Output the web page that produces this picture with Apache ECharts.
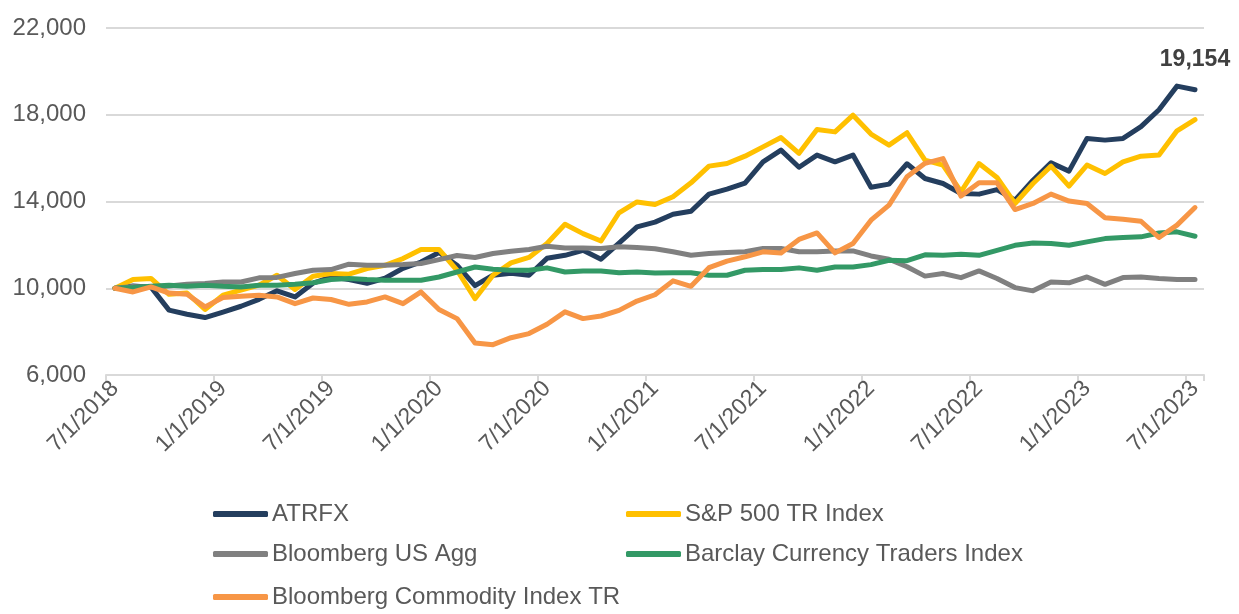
<!DOCTYPE html>
<html>
<head>
<meta charset="utf-8">
<script src="https://cdn.jsdelivr.net/npm/echarts@6/dist/echarts.min.js"></script>
<style>
html,body{margin:0;padding:0;background:#fff;}
#chart{width:1239px;height:614px;}
</style>
</head>
<body>
<div id="chart"></div>
<script>
const categories = [
"7/1/2018","8/1/2018","9/1/2018","10/1/2018","11/1/2018","12/1/2018",
"1/1/2019","2/1/2019","3/1/2019","4/1/2019","5/1/2019","6/1/2019",
"7/1/2019","8/1/2019","9/1/2019","10/1/2019","11/1/2019","12/1/2019",
"1/1/2020","2/1/2020","3/1/2020","4/1/2020","5/1/2020","6/1/2020",
"7/1/2020","8/1/2020","9/1/2020","10/1/2020","11/1/2020","12/1/2020",
"1/1/2021","2/1/2021","3/1/2021","4/1/2021","5/1/2021","6/1/2021",
"7/1/2021","8/1/2021","9/1/2021","10/1/2021","11/1/2021","12/1/2021",
"1/1/2022","2/1/2022","3/1/2022","4/1/2022","5/1/2022","6/1/2022",
"7/1/2022","8/1/2022","9/1/2022","10/1/2022","11/1/2022","12/1/2022",
"1/1/2023","2/1/2023","3/1/2023","4/1/2023","5/1/2023","6/1/2023",
"7/1/2023"
];

const atrfx = [
10000,10100,10050,8990,8800,8650,8900,9170,9490,9880,9600,10230,10520,10400,10230,
10460,10920,11210,11650,11060,10120,10600,10690,10600,11380,11520,11750,11340,12080,12830,
13050,13410,13550,14340,14570,14850,15830,16370,15580,16140,15830,16140,14660,14800,15740,
15060,14830,14370,14340,14550,14060,14980,15780,15400,16910,16830,16910,17450,18230,19320,
19154
];
const sp500 = [
10000,10400,10450,9720,9780,9020,9680,9910,10140,10600,9940,10550,10680,10650,10910,
11060,11370,11790,11790,10830,9520,10600,11170,11420,12060,12950,12520,12180,13480,13980,
13860,14220,14860,15630,15750,16090,16520,16950,16220,17320,17210,17980,17110,16600,17170,
15910,15680,14450,15750,15110,13910,14830,15630,14710,15680,15290,15830,16090,16140,17260,
17780
];
const usAgg = [
10000,10080,10050,10100,10180,10220,10290,10290,10480,10500,10680,10830,10860,11110,11060,
11060,11090,11140,11320,11510,11420,11600,11710,11790,11940,11860,11860,11830,11910,11880,
11820,11680,11520,11600,11650,11680,11830,11830,11680,11680,11720,11720,11490,11340,10990,
10560,10680,10490,10800,10450,10030,9880,10290,10250,10520,10180,10490,10520,10450,10400,
10400
];
const currency = [
10000,10030,10090,10140,10090,10140,10090,10060,10140,10140,10180,10250,10400,10450,10400,
10370,10370,10370,10520,10750,10980,10880,10830,10830,10940,10750,10800,10800,10710,10750,
10700,10710,10710,10600,10600,10830,10860,10860,10940,10830,10980,10980,11090,11290,11270,
11540,11520,11570,11520,11750,11980,12090,12060,11980,12140,12290,12340,12370,12550,12600,
12400
];
const commodity = [
10000,9830,10060,9780,9720,9140,9570,9630,9680,9600,9290,9550,9480,9260,9370,
9600,9290,9830,9020,8600,7480,7400,7720,7910,8340,8910,8600,8720,8980,9410,
9700,10340,10090,10950,11250,11450,11680,11630,12250,12550,11630,12060,13140,13830,15140,
15760,15980,14250,14860,14860,13630,13910,14340,14020,13910,13250,13180,13090,12340,12910,
13720
];
const yTicks = {min: 6000, max: 22000, interval: 4000};

const seriesDefs = [
  {name: "ATRFX", data: atrfx, color: "#243E5E"},
  {name: "S&P 500 TR Index", data: sp500, color: "#FFC000"},
  {name: "Bloomberg US Agg", data: usAgg, color: "#808080"},
  {name: "Barclay Currency Traders Index", data: currency, color: "#339966"},
  {name: "Bloomberg Commodity Index TR", data: commodity, color: "#F79646"}
];

const legendPos = [
  {left: 213, top: 502},
  {left: 626, top: 502},
  {left: 213, top: 542},
  {left: 626, top: 542},
  {left: 213, top: 585}
];

const fontFam = "'Liberation Sans', Arial, sans-serif";
const chart = echarts.init(document.getElementById('chart'), null, {renderer: 'canvas'});

const fmt = v => v.toLocaleString('en-US');
const every6 = (idx) => idx % 6 === 0;

const option = {
  animation: false,
  backgroundColor: '#ffffff',
  grid: {left: 106, right: 35, top: 28, bottom: 239, containLabel: false},
  xAxis: {
    type: 'category',
    data: categories,
    boundaryGap: true,
    axisLine: {show: true, lineStyle: {color: '#d9d9d9', width: 2}},
    axisTick: {show: true, interval: every6, length: 6, lineStyle: {color: '#d9d9d9', width: 2}},
    axisLabel: {
      interval: every6, rotate: 45, margin: 10,
      color: '#595959', fontSize: 23, fontFamily: fontFam
    },
    splitLine: {show: false}
  },
  yAxis: {
    type: 'value',
    min: yTicks.min, max: yTicks.max, interval: yTicks.interval,
    axisLine: {show: false},
    axisTick: {show: false},
    axisLabel: {
      color: '#595959', fontSize: 24, fontFamily: fontFam, margin: 20,
      formatter: v => fmt(v)
    },
    splitLine: {show: true, lineStyle: {color: '#d9d9d9', width: 2}}
  },
  legend: seriesDefs.map((s, i) => ({
    data: [s.name],
    left: legendPos[i].left,
    top: legendPos[i].top,
    orient: 'horizontal',
    icon: 'roundRect',
    itemWidth: 55,
    itemHeight: 6,
    itemGap: 4,
    padding: 0,
    selectedMode: false,
    textStyle: {color: '#595959', fontSize: 24, fontFamily: fontFam, padding: [0, 0, 0, -1]}
  })),
  series: seriesDefs.map((s, i) => ({
    name: s.name,
    type: 'line',
    data: s.data,
    symbol: 'none',
    smooth: false,
    z: 2 + i,
    itemStyle: {color: s.color},
    lineStyle: {color: s.color, width: 5, cap: 'round', join: 'round'},
    label: {show: false}
  }))
};

// data label for the last ATRFX value
const last = atrfx.length - 1;
option.series[0].symbol = 'circle';
option.series[0].symbolSize = 0;
option.series[0].showSymbol = true;
option.series[0].showAllSymbol = true;
option.series[0].data = atrfx.map((v, i) => i === last ? {
  value: v,
  label: {
    show: true, position: 'top', distance: 19,
    formatter: p => fmt(p.value),
    color: '#404040', fontSize: 23, fontWeight: 'bold', fontFamily: fontFam
  }
} : v);

chart.setOption(option);
</script>
</body>
</html>
